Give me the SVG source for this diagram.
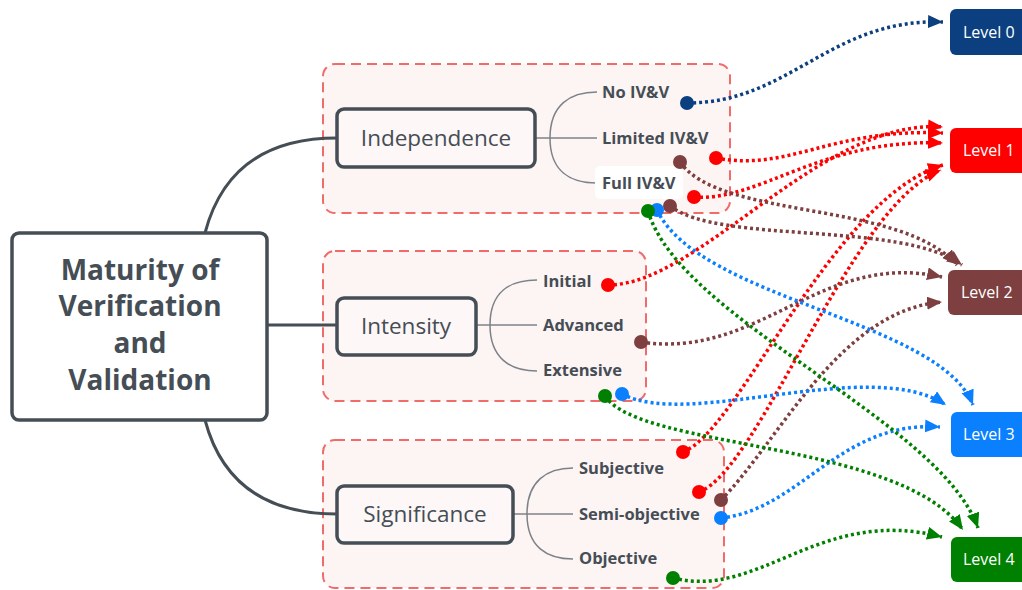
<svg xmlns="http://www.w3.org/2000/svg" width="1022" height="590" viewBox="0 0 1022 590">
<style>
.grp{fill:#fdf4f4;stroke:#f26b6b;stroke-width:2;stroke-dasharray:10 6}
.node{fill:#fdf7f7;stroke:#454d55;stroke-width:3.5}
.main{fill:none;stroke:#454d55;stroke-width:3}
.br{fill:none;stroke:#7d8288;stroke-width:1.5}
.t{font-family:"Open Sans","Liberation Sans",sans-serif;fill:#454d55}
.title{font-size:28px;font-weight:700;text-anchor:middle}
.nt{font-size:22.5px;text-anchor:middle}
.lb{font-size:16.5px;font-weight:700}
.lv{font-family:"Open Sans","Liberation Sans",sans-serif;font-size:16px;fill:#ffffff}
.c{fill:none;stroke-width:3.5;stroke-dasharray:3 3}
.nb{stroke:#0b3f7f;marker-start:url(#dNB);marker-end:url(#aNB)}
.rd{stroke:#ff0000;marker-start:url(#dRD);marker-end:url(#aRD)}
.bn{stroke:#7d3f3f;marker-start:url(#dBN);marker-end:url(#aBN)}
.bl{stroke:#0a80ff;marker-start:url(#dBL);marker-end:url(#aBL)}
.gn{stroke:#008000;marker-start:url(#dGN);marker-end:url(#aGN)}
</style>
<defs>
<marker id="aNB" markerUnits="userSpaceOnUse" markerWidth="17" markerHeight="14" refX="15" refY="6.5" orient="auto"><path d="M0,0L15,6.5L0,13z" fill="#0b3f7f"/></marker>
<marker id="aRD" markerUnits="userSpaceOnUse" markerWidth="17" markerHeight="14" refX="15" refY="6.5" orient="auto"><path d="M0,0L15,6.5L0,13z" fill="#ff0000"/></marker>
<marker id="aBN" markerUnits="userSpaceOnUse" markerWidth="17" markerHeight="14" refX="15" refY="6.5" orient="auto"><path d="M0,0L15,6.5L0,13z" fill="#7d3f3f"/></marker>
<marker id="aBL" markerUnits="userSpaceOnUse" markerWidth="17" markerHeight="14" refX="15" refY="6.5" orient="auto"><path d="M0,0L15,6.5L0,13z" fill="#0a80ff"/></marker>
<marker id="aGN" markerUnits="userSpaceOnUse" markerWidth="17" markerHeight="14" refX="15" refY="6.5" orient="auto"><path d="M0,0L15,6.5L0,13z" fill="#008000"/></marker>
<marker id="dNB" markerUnits="userSpaceOnUse" markerWidth="16" markerHeight="16" refX="8" refY="8"><circle cx="8" cy="8" r="7" fill="#0b3f7f"/></marker>
<marker id="dRD" markerUnits="userSpaceOnUse" markerWidth="16" markerHeight="16" refX="8" refY="8"><circle cx="8" cy="8" r="7" fill="#ff0000"/></marker>
<marker id="dBN" markerUnits="userSpaceOnUse" markerWidth="16" markerHeight="16" refX="8" refY="8"><circle cx="8" cy="8" r="7" fill="#7d3f3f"/></marker>
<marker id="dBL" markerUnits="userSpaceOnUse" markerWidth="16" markerHeight="16" refX="8" refY="8"><circle cx="8" cy="8" r="7" fill="#0a80ff"/></marker>
<marker id="dGN" markerUnits="userSpaceOnUse" markerWidth="16" markerHeight="16" refX="8" refY="8"><circle cx="8" cy="8" r="7" fill="#008000"/></marker>
</defs>
<rect width="1022" height="590" fill="#ffffff"/>

<g id="groups">
<rect class="grp" x="323" y="64" width="407" height="149" rx="12"/>
<rect class="grp" x="323" y="251" width="323" height="150" rx="12"/>
<rect class="grp" x="323" y="440" width="401" height="148" rx="12"/>
</g>

<g id="tree-lines">
<path class="main" d="M205,233 Q230,138 337,138"/>
<path class="main" d="M267,325 L337,325"/>
<path class="main" d="M205,420 Q230,514 337,514"/>
<path class="br" d="M535,138 L597,138 M550,138 C550,105 570,92 597,92 M550,138 C550,171 570,183 597,183"/>
<path class="br" d="M476,325 L537,325 M490,325 C490,292 510,280 537,280 M490,325 C490,358 510,371 537,371"/>
<path class="br" d="M513,514 L573,514 M527,514 C527,481 547,468 573,468 M527,514 C527,547 547,559 573,559"/>
</g>

<g id="root">
<rect x="12" y="233" width="255" height="187" rx="7" fill="#ffffff" stroke="#454d55" stroke-width="3.5"/>
<text class="t title" x="140" y="280">Maturity of</text>
<text class="t title" x="140" y="316">Verification</text>
<text class="t title" x="140" y="353">and</text>
<text class="t title" x="140" y="390">Validation</text>
</g>

<g id="independence">
<rect class="node" x="337" y="109" width="198" height="58" rx="7"/>
<text class="t nt" x="436" y="146">Independence</text>
<text class="t lb" x="602" y="98">No IV&amp;V</text>
<text class="t lb" x="602" y="144">Limited IV&amp;V</text>
<rect x="595" y="166" width="88" height="33" rx="5" fill="#ffffff"/>
<text class="t lb" x="602" y="189">Full IV&amp;V</text>
</g>

<g id="intensity">
<rect class="node" x="337" y="298" width="139" height="57" rx="7"/>
<text class="t nt" x="406" y="334">Intensity</text>
<text class="t lb" x="543" y="287">Initial</text>
<text class="t lb" x="543" y="331">Advanced</text>
<text class="t lb" x="543" y="376">Extensive</text>
</g>

<g id="significance">
<rect class="node" x="337" y="486" width="176" height="57" rx="7"/>
<text class="t nt" x="425" y="522">Significance</text>
<text class="t lb" x="579" y="474">Subjective</text>
<text class="t lb" x="579" y="520">Semi-objective</text>
<text class="t lb" x="579" y="564">Objective</text>
</g>

<g id="level0"><rect x="950" y="9" width="90" height="46" rx="6" fill="#0b3f7f"/><text class="lv" x="963" y="38">Level 0</text></g>
<g id="level1"><rect x="950" y="128" width="90" height="45" rx="6" fill="#ff0000"/><text class="lv" x="963" y="156">Level 1</text></g>
<g id="level2"><rect x="948" y="270" width="90" height="45" rx="6" fill="#7d3f3f"/><text class="lv" x="961" y="298">Level 2</text></g>
<g id="level3"><rect x="951" y="412" width="90" height="45" rx="6" fill="#0a80ff"/><text class="lv" x="963" y="440">Level 3</text></g>
<g id="level4"><rect x="951" y="537" width="90" height="45" rx="6" fill="#008000"/><text class="lv" x="963" y="565">Level 4</text></g>

<g id="connectors">
<path class="c nb" d="M687,103 C790,103 830,18 943,22"/>
<path class="c rd" d="M608,285 C700,285 820,118 943,127"/>
<path class="c rd" d="M716,158 C790,172 830,128 943,133"/>
<path class="c rd" d="M694,197 C760,202 820,138 943,143"/>
<path class="c rd" d="M683,452 C740,430 830,200 943,165"/>
<path class="c rd" d="M699,492 C760,470 850,205 941,170"/>
<path class="c bn" d="M680,162 C720,220 900,200 957,265"/>
<path class="c bn" d="M670,206 C720,245 900,220 962,265"/>
<path class="c bn" d="M641,342 C760,360 820,250 942,277"/>
<path class="c bn" d="M721,500 C780,440 840,310 942,302"/>
<path class="c bl" d="M657,210 C700,300 940,320 973,405"/>
<path class="c bl" d="M622,394 C690,430 870,355 946,405"/>
<path class="c bl" d="M721,518 C800,510 840,420 940,427"/>
<path class="c gn" d="M648,211 C680,320 940,420 978,528"/>
<path class="c gn" d="M605,396 C640,450 900,440 963,530"/>
<path class="c gn" d="M673,578 C760,600 820,505 942,537"/>
</g>
</svg>
